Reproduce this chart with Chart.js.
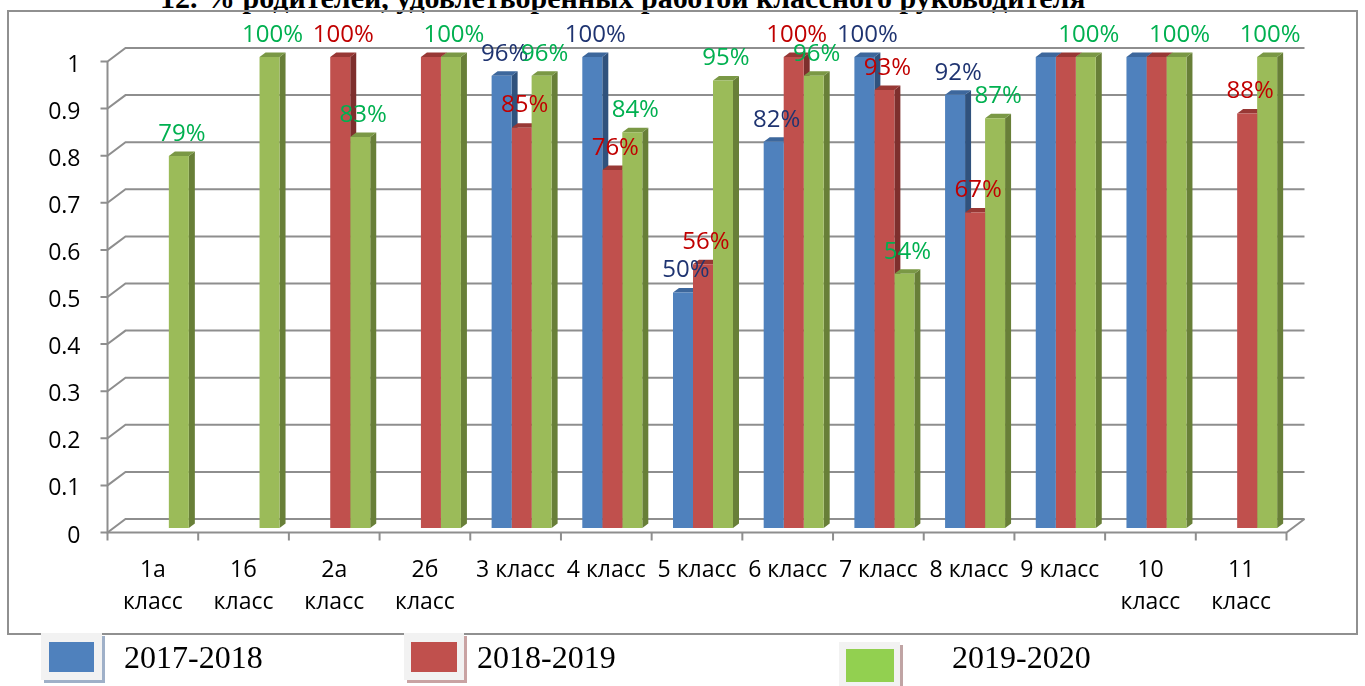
<!DOCTYPE html>
<html>
<head>
<meta charset="utf-8">
<script src="https://cdn.jsdelivr.net/npm/chart.js@4.4.1/dist/chart.umd.min.js"></script>
<style>
    body { margin: 0; background: #fff; width: 1365px; height: 686px; overflow: hidden; position: relative; }
    #frame { position: absolute; left: 7px; top: 10px; width: 1351px; height: 625px; border: 2px solid #909090; box-sizing: border-box; }
    #chart { position: absolute; left: 0; top: 0; }
    #title { position: absolute; left: 160px; top: -17px; font: bold 30px/30px 'Liberation Serif', serif; white-space: nowrap; color: #000; }
    .lg-box { position: absolute; background: #f2f2f2; }
    .lg-swatch { position: absolute; }
    .lg-text { position: absolute; top: 641px; font: 32px/32px 'Liberation Serif', serif; color: #000; white-space: nowrap; }
</style>
</head>
<body>
<div id="title">12. % родителей, удовлетворенных работой классного руководителя</div>
<div id="frame"></div>
<canvas id="chart" width="1365" height="686"></canvas>

<div class="lg-box" style="left:41px;top:633px;width:61px;height:47px;box-shadow:3px 3px 0 #9fb0c8"></div>
<div class="lg-swatch" style="left:49px;top:642px;width:45px;height:30px;background:#4F81BD"></div>
<div class="lg-text" style="left:124px">2017-2018</div>

<div class="lg-box" style="left:404px;top:633px;width:60px;height:47px;box-shadow:3px 3px 0 #c9a3a3"></div>
<div class="lg-swatch" style="left:411px;top:642px;width:46px;height:30px;background:#C0504D"></div>
<div class="lg-text" style="left:477px">2018-2019</div>

<div class="lg-box" style="left:839px;top:642px;width:61px;height:47px;box-shadow:3px 3px 0 #c0a4a4"></div>
<div class="lg-swatch" style="left:846px;top:649px;width:48px;height:33px;background:#92D050"></div>
<div class="lg-text" style="left:952px">2019-2020</div>

<script>
// --- data ---
const categories = [
    ['1а', 'класс'], ['1б', 'класс'], ['2а', 'класс'], ['2б', 'класс'],
    '3 класс', '4 класс', '5 класс', '6 класс', '7 класс', '8 класс', '9 класс',
    ['10', 'класс'], ['11', 'класс']
];
const seasons = ['2017-2018', '2018-2019', '2019-2020'];
const values2017 = [null, null, null, null, 0.96, 1.00, 0.50, 0.82, 1.00, 0.92, 1.00, 1.00, null];
const values2018 = [null, null, 1.00, 1.00, 0.85, 0.76, 0.56, 1.00, 0.93, 0.67, 1.00, 1.00, 0.88];
const values2019 = [0.79, 1.00, 0.83, 1.00, 0.96, 0.84, 0.95, 0.96, 0.54, 0.87, 1.00, 1.00, 1.00];
// which value labels the original shows
const shown2017 = [0, 0, 0, 0, 1, 1, 1, 1, 1, 1, 0, 0, 0];
const shown2018 = [0, 0, 1, 0, 1, 1, 1, 1, 1, 1, 0, 0, 1];
const shown2019 = [1, 1, 1, 1, 1, 1, 1, 1, 1, 1, 1, 1, 1];
const yTickValues = [0, 0.1, 0.2, 0.3, 0.4, 0.5, 0.6, 0.7, 0.8, 0.9, 1];

const palette = [
    { front: '#4F81BD', side: '#30527D', top: '#3D679C', label: '#1F3471' },
    { front: '#C0504D', side: '#7E2F2D', top: '#983835', label: '#C00000' },
    { front: '#9BBB59', side: '#687F38', top: '#7A9845', label: '#00B050' },
];

// 3D offsets relative to the plane the bars stand on
const barDepth = { dx: 6, dy: -4.5 };
const wallBack = { dx: 12, dy: -9 };
const wallFront = { dx: -6, dy: 4.5 };
const gridColor = '#8e8e8e';

function poly(ctx, pts, color) {
    ctx.beginPath();
    ctx.moveTo(pts[0][0], pts[0][1]);
    for (let i = 1; i < pts.length; i++) ctx.lineTo(pts[i][0], pts[i][1]);
    ctx.closePath();
    ctx.fillStyle = color;
    ctx.fill();
}

const box3d = {
    id: 'box3d',
    beforeDatasetsDraw(chart) {
        const ctx = chart.ctx;
        const { left, right, bottom } = chart.chartArea;
        const xs = chart.scales.x, ys = chart.scales.y;
        ctx.save();
        ctx.strokeStyle = gridColor;
        ctx.lineWidth = 2;

        // back wall grid with diagonals on the left wall
        ys.ticks.forEach(t => {
            const yy = ys.getPixelForValue(t.value);
            ctx.beginPath();
            ctx.moveTo(left + wallFront.dx - 7, yy + wallFront.dy);
            ctx.lineTo(left + wallFront.dx, yy + wallFront.dy);
            ctx.lineTo(left + wallBack.dx, yy + wallBack.dy);
            ctx.lineTo(right + wallBack.dx, yy + wallBack.dy);
            ctx.stroke();
        });
        // front vertical axis
        ctx.beginPath();
        ctx.moveTo(left + wallFront.dx, ys.getPixelForValue(1) + wallFront.dy);
        ctx.lineTo(left + wallFront.dx, bottom + wallFront.dy);
        // floor front edge + right diagonal
        ctx.lineTo(right + wallFront.dx, bottom + wallFront.dy);
        ctx.lineTo(right + wallBack.dx, bottom + wallBack.dy);
        ctx.stroke();
        // category tick marks
        const step = xs.getPixelForValue(1) - xs.getPixelForValue(0);
        for (let i = 0; i <= categories.length; i++) {
            const xx = xs.getPixelForValue(i) - step / 2 + wallFront.dx;
            ctx.beginPath();
            ctx.moveTo(xx, bottom + wallFront.dy);
            ctx.lineTo(xx, bottom + wallFront.dy + 8);
            ctx.stroke();
        }

        // side and top faces, painted left to right
        for (let i = 0; i < categories.length; i++) {
            chart.data.datasets.forEach((ds, d) => {
                if (ds.data[i] == null) return;
                const el = chart.getDatasetMeta(d).data[i];
                const l = el.x - el.width / 2, r = el.x + el.width / 2;
                const c = palette[d];
                poly(ctx, [[r, el.y], [r + barDepth.dx, el.y + barDepth.dy],
                           [r + barDepth.dx, el.base + barDepth.dy], [r, el.base]], c.side);
                poly(ctx, [[l, el.y], [r, el.y], [r + barDepth.dx, el.y + barDepth.dy],
                           [l + barDepth.dx, el.y + barDepth.dy]], c.top);
            });
        }
        ctx.restore();
    },
    afterDatasetsDraw(chart) {
        const ctx = chart.ctx;
        const shown = [shown2017, shown2018, shown2019];
        ctx.save();
        ctx.font = "24px 'Open Sans'";
        ctx.textAlign = 'center';
        ctx.textBaseline = 'middle';
        chart.data.datasets.forEach((ds, d) => {
            chart.getDatasetMeta(d).data.forEach((el, i) => {
                const v = ds.data[i];
                if (v == null || !shown[d][i]) return;
                ctx.fillStyle = palette[d].label;
                ctx.fillText(Math.round(v * 100) + '%', el.x + 3, el.y - 22);
            });
        });
        ctx.restore();
    }
};

new Chart(document.getElementById('chart'), {
    type: 'bar',
    data: {
        labels: categories,
        datasets: [values2017, values2018, values2019].map((vals, d) => ({
            label: seasons[d],
            data: vals,
            backgroundColor: palette[d].front,
            borderWidth: 0,
            categoryPercentage: 0.6616,
            barPercentage: 1,
        })),
    },
    options: {
        responsive: false,
        animation: false,
        locale: 'en-US',
        layout: { padding: { top: 57, right: 72.5, bottom: 0, left: 0 } },
        plugins: { legend: { display: false }, tooltip: { enabled: false }, title: { display: false } },
        scales: {
            x: {
                grid: { display: false, drawTicks: false },
                border: { display: false },
                ticks: {
                    font: { family: 'Open Sans', size: 23, lineHeight: 1.4 },
                    color: '#000', padding: 26, labelOffset: -6,
                    maxRotation: 0, autoSkip: false,
                },
                afterFit(s) { s.height = 158; },
            },
            y: {
                min: 0, max: 1,
                grid: { display: false, drawTicks: false },
                border: { display: false },
                afterBuildTicks(s) { s.ticks = yTickValues.map(v => ({ value: v })); },
                ticks: {
                    font: { family: 'Open Sans', size: 23 },
                    color: '#000', padding: 33, labelOffset: 8,
                    callback: v => String(Math.round(v * 10) / 10),
                },
                afterFit(s) { s.width = 113.5; },
            },
        },
    },
    plugins: [box3d],
});
</script>
</body>
</html>
